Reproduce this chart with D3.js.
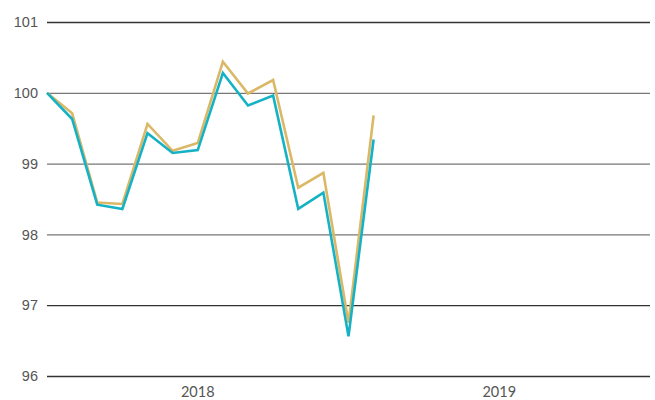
<!DOCTYPE html>
<html>
<head>
<meta charset="UTF-8">
<script src="https://d3js.org/d3.v7.min.js"></script>
<style>
    body { margin: 0; background: #fff; font-family: Lato, "Open Sans", sans-serif; }
    .tick text { fill: #555; font-size: 14.5px; }
</style>
</head>
<body>
<div id="chart"></div>
<script>
    // monthly index, Jan 2018 = 100
    const years = ["2018", "2019"];
    const yTicks = [96, 97, 98, 99, 100, 101];
    const tealValues = [100, 99.63, 98.42, 98.36, 99.43, 99.15, 99.19, 100.28, 99.82, 99.96, 98.36, 98.59, 96.56, 99.34];
    const goldValues = [100, 99.71, 98.45, 98.43, 99.56, 99.18, 99.29, 100.44, 99.99, 100.18, 98.66, 98.87, 96.75, 99.68];

    const W = 655, H = 400;
    const margin = { top: 22, right: 5, bottom: 24, left: 47 };

    const svg = d3.select("#chart").append("svg")
        .attr("width", W)
        .attr("height", H);

    // 24 months across the axis
    const x = d3.scaleLinear()
        .domain([0, 24])
        .range([margin.left, W - margin.right]);

    const y = d3.scaleLinear()
        .domain([96, 101])
        .range([H - margin.bottom, margin.top]);

    // gridlines + labels
    const yAxis = svg.append("g")
        .attr("transform", `translate(${margin.left},0)`)
        .call(d3.axisLeft(y).tickValues(yTicks).tickSize(-(W - margin.left - margin.right)).tickPadding(9).tickFormat(d3.format("d")));
    yAxis.select(".domain").remove();
    yAxis.selectAll(".tick line")
        .attr("stroke", d => d >= 98 && d <= 100 ? "#777" : "#333")
        .attr("stroke-width", 1.3);

    // year labels centred in each 12-month span
    svg.selectAll(".year")
        .data(years)
        .enter()
        .append("text")
        .attr("class", "year")
        .attr("x", (d, i) => x(i * 12 + 6))
        .attr("y", H - 3)
        .attr("text-anchor", "middle")
        .attr("fill", "#555")
        .style("font-size", "14.5px")
        .text(d => d);

    const line = d3.line()
        .x((d, i) => x(i))
        .y(d => y(d));

    svg.append("path")
        .datum(goldValues)
        .attr("fill", "none")
        .attr("stroke", "#dbb866")
        .attr("stroke-width", 2.6)
        .attr("d", line);

    svg.append("path")
        .datum(tealValues)
        .attr("fill", "none")
        .attr("stroke", "#15b2c6")
        .attr("stroke-width", 2.6)
        .attr("d", line);
</script>
</body>
</html>
